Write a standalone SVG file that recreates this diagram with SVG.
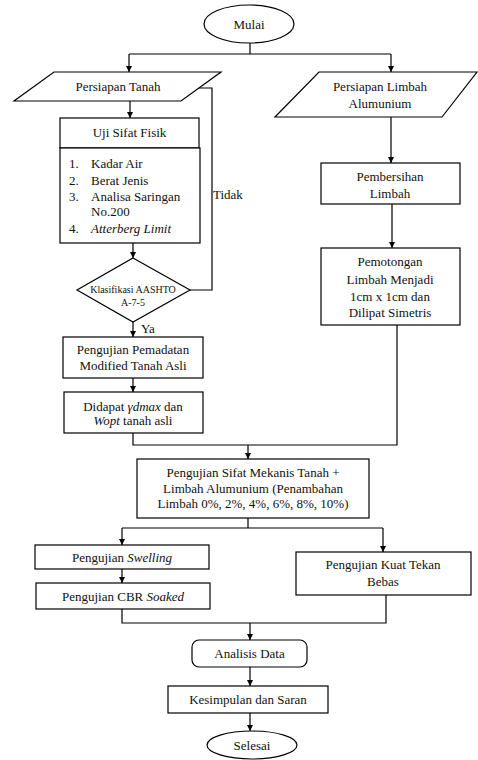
<svg xmlns="http://www.w3.org/2000/svg" width="478" height="760" viewBox="0 0 478 760" font-family="Liberation Serif, Times New Roman, serif">
<style>
.s{fill:#fff;stroke:#000;stroke-width:1.2}
text{font-size:13px;fill:#111;text-anchor:middle}
.l{text-anchor:start}
.i{font-style:italic}
.sm{font-size:10px}
.c{fill:none;stroke:#000;stroke-width:1.2}
.a{fill:none;stroke:#000;stroke-width:1.2;marker-end:url(#arr)}
</style>
<defs>
<marker id="arr" viewBox="0 0 10 10" refX="10" refY="5" markerWidth="6" markerHeight="6" markerUnits="userSpaceOnUse" orient="auto">
<path d="M0,0 L10,5 L0,10 z" fill="#000"/>
</marker>
</defs>
<rect width="478" height="760" fill="#fff"/>

<g id="connectors">
<path class="c" d="M250,43 V54 M129,54 H391"/>
<path class="a" d="M129,54 V72"/>
<path class="a" d="M391,54 V72"/>
<path class="a" d="M130,101 V118"/>
<path class="a" d="M133,243 V258"/>
<path class="c" d="M190,290 H212 V88 H199"/>
<path class="a" d="M133,322 V337"/>
<path class="a" d="M133,378 V392"/>
<path class="a" d="M391,117 V163"/>
<path class="a" d="M392,204 V248"/>
<path class="c" d="M133,433 V445 H397 V325"/>
<path class="a" d="M248,445 V459"/>
<path class="c" d="M248,518 V528 M122,528 H383"/>
<path class="a" d="M122,528 V545"/>
<path class="a" d="M383,528 V552"/>
<path class="a" d="M122,569 V583"/>
<path class="c" d="M122,609 V623 H386 V595"/>
<path class="a" d="M250,623 V640"/>
<path class="a" d="M250,667 V686"/>
<path class="a" d="M250,713 V731"/>
<text x="213" y="199" class="l">Tidak</text>
<text x="141" y="333" class="l">Ya</text>
</g>

<g id="mulai">
<ellipse class="s" cx="249" cy="24" rx="45" ry="19"/>
<text x="249" y="29">Mulai</text>
</g>

<g id="persiapan-tanah">
<path class="s" d="M54,72 H221 L181,101 H14 Z"/>
<text x="118" y="91">Persiapan Tanah</text>
</g>

<g id="uji-sifat-fisik">
<rect class="s" x="60" y="118" width="139" height="30"/>
<text x="129.5" y="137">Uji Sifat Fisik</text>
</g>

<g id="list-uji">
<rect class="s" x="60" y="148" width="140" height="95"/>
<text class="l" x="69" y="168">1.</text><text class="l" x="91" y="168">Kadar Air</text>
<text class="l" x="69" y="185">2.</text><text class="l" x="91" y="185">Berat Jenis</text>
<text class="l" x="69" y="201">3.</text><text class="l" x="91" y="201">Analisa Saringan</text>
<text class="l" x="91" y="216">No.200</text>
<text class="l" x="69" y="233">4.</text><text class="l i" x="91" y="233">Atterberg Limit</text>
</g>

<g id="klasifikasi">
<path class="s" d="M133,258 L190,290 L133,322 L77,290 Z"/>
<text class="sm" x="133" y="293">Klasifikasi AASHTO</text>
<text class="sm" x="133" y="306">A-7-5</text>
</g>

<g id="pemadatan">
<rect class="s" x="63" y="337" width="140" height="41"/>
<text x="133" y="354">Pengujian Pemadatan</text>
<text x="133" y="370">Modified Tanah Asli</text>
</g>

<g id="didapat">
<rect class="s" x="64" y="392" width="139" height="41"/>
<text x="133" y="411">Didapat <tspan class="i">γdmax</tspan> dan</text>
<text x="133" y="425"><tspan class="i">Wopt</tspan> tanah asli</text>
</g>

<g id="persiapan-limbah">
<path class="s" d="M319,72 H477 L442,117 H275 Z"/>
<text x="380" y="91">Persiapan Limbah</text>
<text x="380" y="108">Alumunium</text>
</g>

<g id="pembersihan">
<rect class="s" x="321" y="163" width="139" height="41"/>
<text x="390" y="181">Pembersihan</text>
<text x="390" y="198">Limbah</text>
</g>

<g id="pemotongan">
<rect class="s" x="321" y="248" width="139" height="77"/>
<text x="390" y="266">Pemotongan</text>
<text x="390" y="284">Limbah Menjadi</text>
<text x="390" y="301">1cm x 1cm dan</text>
<text x="390" y="317">Dilipat Simetris</text>
</g>

<g id="sifat-mekanis">
<rect class="s" x="137" y="459" width="232" height="59"/>
<text x="253" y="477">Pengujian Sifat Mekanis Tanah +</text>
<text x="253" y="493">Limbah Alumunium (Penambahan</text>
<text x="253" y="508">Limbah 0%, 2%, 4%, 6%, 8%, 10%)</text>
</g>

<g id="swelling">
<rect class="s" x="35" y="545" width="174" height="24"/>
<text x="122" y="562">Pengujian <tspan class="i">Swelling</tspan></text>
</g>

<g id="cbr">
<rect class="s" x="36" y="583" width="174" height="26"/>
<text x="123" y="601">Pengujian CBR <tspan class="i">Soaked</tspan></text>
</g>

<g id="kuat-tekan">
<rect class="s" x="296" y="552" width="175" height="43"/>
<text x="383" y="569">Pengujian Kuat Tekan</text>
<text x="383" y="586">Bebas</text>
</g>

<g id="analisis">
<rect class="s" x="192" y="640" width="115" height="27" rx="7"/>
<text x="249.5" y="658">Analisis Data</text>
</g>

<g id="kesimpulan">
<rect class="s" x="168" y="686" width="160" height="27"/>
<text x="248" y="704">Kesimpulan dan Saran</text>
</g>

<g id="selesai">
<ellipse class="s" cx="252" cy="745" rx="45" ry="14"/>
<text x="252" y="750">Selesai</text>
</g>
</svg>
